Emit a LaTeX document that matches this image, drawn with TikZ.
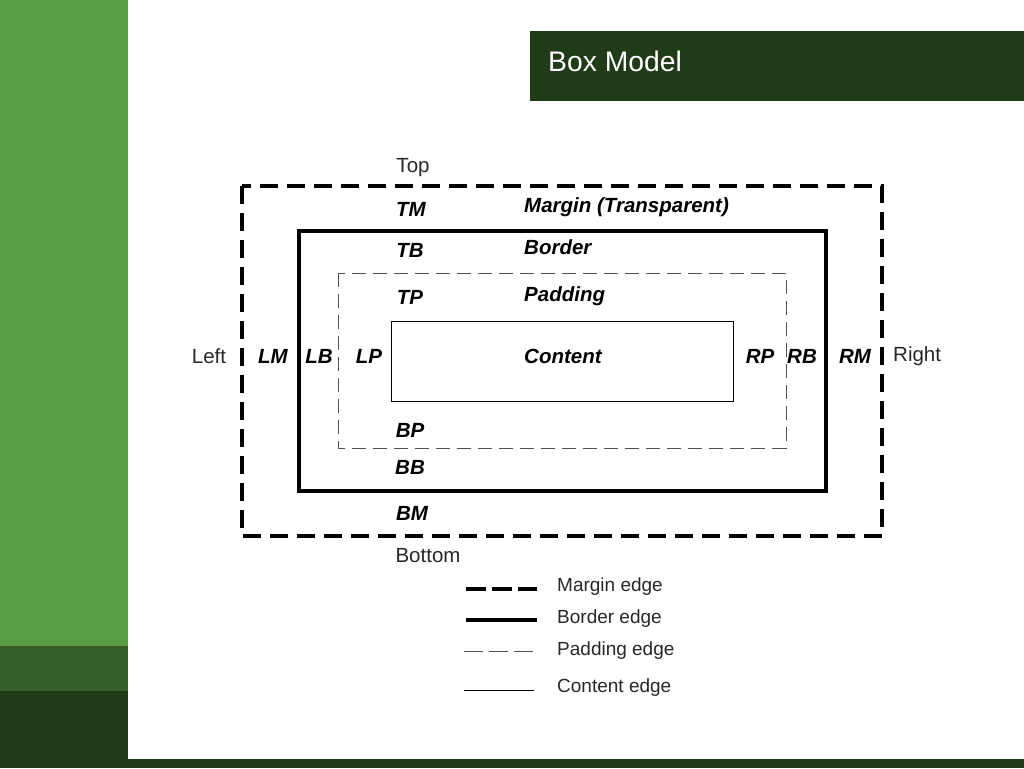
\documentclass[tikz,border=0pt]{standalone}
\usepackage{fontspec}
\setmainfont{Liberation Sans}
\definecolor{sidegreen}{RGB}{91,159,68}
\definecolor{midgreen}{RGB}{53,94,40}
\definecolor{darkgreen}{RGB}{33,59,25}
\definecolor{padgrey}{RGB}{80,80,80}
\definecolor{textgrey}{RGB}{40,40,40}
\begin{document}
\begin{tikzpicture}[x=1pt,y=-1pt,
    every node/.style={inner sep=0pt},
    sidelabel/.style={yshift=-2.5pt, text=textgrey, font=\fontsize{20.5}{24}\selectfont},
    edgelabel/.style={yshift=-2.5pt, font=\fontsize{20.5}{24}\selectfont\bfseries\itshape},
    keylabel/.style={anchor=west, yshift=-1pt, text=textgrey, font=\fontsize{19}{22}\selectfont},
    marginedge/.style={line width=3.5pt, dash pattern=on 18pt off 9pt},
    borderedge/.style={line width=3.5pt},
    paddingedge/.style={line width=0.9pt, padgrey, dash pattern=on 14pt off 7pt},
    contentedge/.style={line width=0.9pt}]
  \useasboundingbox (0,0) rectangle (1024,768);
  % page background
  \fill[white] (0,0) rectangle (1024,768);
  \fill[sidegreen] (0,0) rectangle (128,646);
  \fill[midgreen] (0,646) rectangle (128,691);
  \fill[darkgreen] (0,691) rectangle (128,768);
  \fill[darkgreen] (128,759) rectangle (1024,768);
  \fill[darkgreen] (530,31) rectangle (1024,101);
  \node[anchor=west, text=white, font=\fontsize{28.3}{32}\selectfont] (title) at (548,61) {Box Model};

  % the four boxes
  \draw[marginedge] (242,186) rectangle (882,536);
  \draw[borderedge] (299,231) rectangle (826,491);
  \draw[paddingedge] (338,273) rectangle (786,448);
  \draw[contentedge] (391,321) rectangle (733,401);

  % sides
  \node[sidelabel] (top) at (413,165) {Top};
  \node[sidelabel] (bottom) at (428,553) {Bottom};
  \node[sidelabel] (left) at (209,354) {Left};
  \node[sidelabel, anchor=west] (right) at (893,354) {Right};

  % top and bottom labels
  \node[edgelabel] (TM) at (411,207) {TM};
  \node[edgelabel] (TB) at (410,248) {TB};
  \node[edgelabel] (TP) at (410,295) {TP};
  \node[edgelabel] (BP) at (410,428) {BP};
  \node[edgelabel] (BB) at (410,465) {BB};
  \node[edgelabel] (BM) at (412,511) {BM};

  % left and right labels
  \node[edgelabel] (LM) at (273,354) {LM};
  \node[edgelabel] (LB) at (319,354) {LB};
  \node[edgelabel] (LP) at (369,354) {LP};
  \node[edgelabel] (RP) at (760,354) {RP};
  \node[edgelabel] (RB) at (802,354) {RB};
  \node[edgelabel] (RM) at (855,354) {RM};

  % area names
  \node[edgelabel, anchor=west] (marginname) at (524,205) {Margin (Transparent)};
  \node[edgelabel, anchor=west] (bordername) at (524,245) {Border};
  \node[edgelabel, anchor=west] (paddingname) at (524,294) {Padding};
  \node[edgelabel, anchor=west] (contentname) at (524,354) {Content};

  % legend
  \coordinate (m1) at (466,589); \coordinate (m2) at (537,589);
  \coordinate (b1) at (466,620); \coordinate (b2) at (537,620);
  \coordinate (p1) at (464,651); \coordinate (p2) at (534,651);
  \coordinate (c1) at (464,690); \coordinate (c2) at (534,690);
  \draw[line width=3.5pt, dash pattern=on 20pt off 6pt] (m1) -- (m2);
  \draw[borderedge] (b1) -- (b2);
  \draw[line width=1pt, padgrey, dash pattern=on 19pt off 6pt] (p1) -- (p2);
  \draw[contentedge] (c1) -- (c2);
  \node[keylabel] (marginkey) at (557,586) {Margin edge};
  \node[keylabel] (borderkey) at (557,618) {Border edge};
  \node[keylabel] (paddingkey) at (557,650) {Padding edge};
  \node[keylabel] (contentkey) at (557,687) {Content edge};
\end{tikzpicture}
\end{document}
